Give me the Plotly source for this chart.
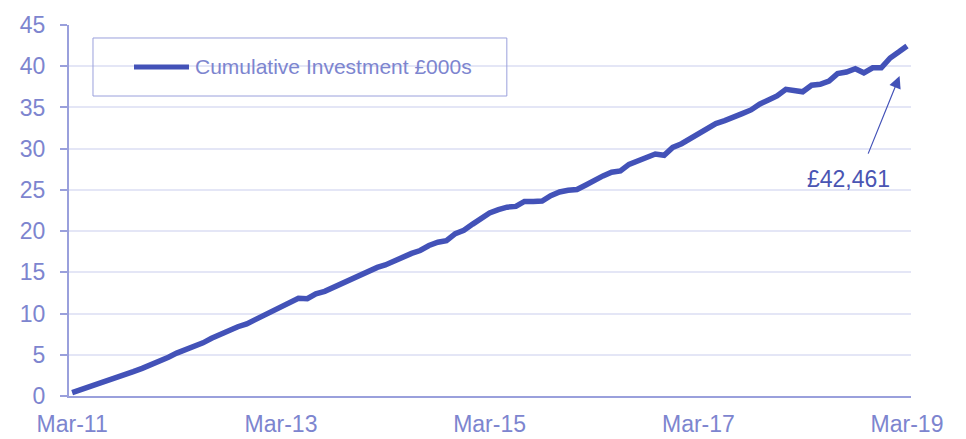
import plotly.graph_objects as go
import pandas as pd

# ---- data ----
months = pd.date_range("2011-03-01", "2019-03-01", freq="MS").strftime("%Y-%m-%d").tolist()
cumulative_investment = [
    0.40, 0.75, 1.15, 1.50, 1.85, 2.20, 2.55, 2.95, 3.35, 3.75,
    4.20, 4.70, 5.20, 5.60, 5.98, 6.45, 7.00, 7.50, 7.95, 8.40,
    8.75, 9.25, 9.75, 10.20, 10.70, 11.20, 11.85, 11.80, 12.40, 12.70,
    13.20, 13.70, 14.20, 14.65, 15.20, 15.60, 15.90, 16.40, 16.90, 17.30,
    17.65, 18.25, 18.65, 18.85, 19.70, 20.10, 20.85, 21.50, 22.20, 22.60,
    22.90, 23.00, 23.60, 23.60, 23.65, 24.30, 24.75, 24.95, 25.05, 25.60,
    26.20, 26.70, 27.15, 27.30, 28.10, 28.55, 28.90, 29.35, 29.20, 30.15,
    30.60, 31.20, 31.70, 32.40, 33.05, 33.40, 33.90, 34.25, 34.70, 35.40,
    35.90, 36.40, 37.20, 37.00, 36.90, 37.70, 37.80, 38.20, 39.10, 39.30,
    39.70, 39.20, 39.80, 39.80, 41.00, 41.75, 42.461,
]
x_tick_vals = ["2011-03-01", "2013-03-01", "2015-03-01", "2017-03-01", "2019-03-01"]
x_tick_labels = ["Mar-11", "Mar-13", "Mar-15", "Mar-17", "Mar-19"]
y_tick_vals = [0, 5, 10, 15, 20, 25, 30, 35, 40, 45]
series_name = "Cumulative Investment £000s"
final_label = "£42,461"

LINE = "#4352b8"
TXT = "#7d85cf"
AXIS = "#9aa0dc"
GRID = "#e4e6f6"
FONT = "Liberation Sans, Arial, sans-serif"

fig = go.Figure()
fig.add_trace(go.Scatter(
    x=months, y=cumulative_investment, mode="lines", name=series_name,
    line=dict(color=LINE, width=5.5), showlegend=False,
))

# custom legend (box, sample, label)
fig.add_shape(type="rect", xref="paper", yref="paper",
              x0=0.0285, x1=0.520, y0=0.8086, y1=0.965,
              line=dict(color=AXIS, width=1), fillcolor="rgba(0,0,0,0)")
fig.add_shape(type="line", xref="paper", yref="paper",
              x0=0.0772, x1=0.1425, y0=0.8868, y1=0.8868,
              line=dict(color=LINE, width=5))
fig.add_annotation(xref="paper", yref="paper", x=0.1473, y=0.8868,
                   xanchor="left", yanchor="middle", showarrow=False,
                   text=series_name, font=dict(family=FONT, size=21, color=TXT))

# final value annotation
fig.add_annotation(xref="x", yref="y", x="2019-02-03", y=38.8,
                   ax=-32, ay=79, axref="pixel", ayref="pixel",
                   text="", showarrow=True, arrowhead=2, arrowsize=2,
                   arrowwidth=1.2, arrowcolor=LINE)
fig.add_annotation(xref="x", yref="y", x="2018-08-07", y=26.3,
                   showarrow=False, text=final_label,
                   font=dict(family=FONT, size=23, color="#4a55b3"))

# page body has an 8px default margin -> compensate
fig.update_layout(
    width=958, height=431,
    margin=dict(l=61, r=55, t=17, b=43),
    paper_bgcolor="white", plot_bgcolor="white",
    font=dict(family=FONT, size=23, color=TXT),
    showlegend=False,
)
fig.update_xaxes(
    type="date", range=["2011-02-18", "2019-03-15"],
    tickvals=x_tick_vals, ticktext=x_tick_labels,
    showgrid=False, showline=True, linecolor=AXIS, linewidth=2,
    ticks="", tickfont=dict(family=FONT, size=23, color=TXT),
    ticklabelstandoff=6, automargin=False,
)
fig.update_yaxes(
    range=[0, 45], tickvals=y_tick_vals,
    showgrid=True, gridcolor=GRID, gridwidth=2,
    showline=True, linecolor=AXIS, linewidth=2,
    ticks="outside", ticklen=7, tickcolor=AXIS, tickwidth=2,
    tickfont=dict(family=FONT, size=23, color=TXT),
    ticklabelstandoff=10, zeroline=False, automargin=False,
)

fig.write_html("out.html")
